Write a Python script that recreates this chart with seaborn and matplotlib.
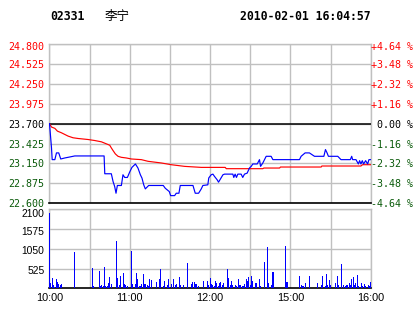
import matplotlib
matplotlib.use("Agg")
import matplotlib.pyplot as plt
import matplotlib.transforms as mtransforms
import seaborn as sns
import pandas as pd

# ---------------- data ----------------
code = "02331"
name = "李宁"
stamp = "2010-02-01 16:04:57"
prev_close = 23.70

price_ticks = [24.800, 24.525, 24.250, 23.975, 23.700, 23.425, 23.150, 22.875, 22.600]
price_tick_labels = ["24.800", "24.525", "24.250", "23.975", "23.700", "23.425", "23.150", "22.875", "22.600"]
pct_labels = ["+4.64 %", "+3.48 %", "+2.32 %", "+1.16 %", " 0.00 %", "-1.16 %", "-2.32 %", "-3.48 %", "-4.64 %"]
vol_ticks = [2100, 1575, 1050, 525]
vol_tick_labels = ["2100", "1575", "1050", "525"]
time_ticks = [0, 60, 120, 180, 240]
time_labels = ["10:00", "11:00", "12:00", "15:00", "16:00"]

price_min = [0, 1.5, 2.0, 4.0, 5.2, 6.9, 8.4, 11.4, 13.9, 18.9, 40.8, 41.3, 46.2, 47.5, 48.7, 49.7,
             50.7, 53.7, 54.9, 56.2, 58.2, 59.9, 61.6, 64.2, 66.1, 67.9, 69.1, 70.4, 71.6, 74.1, 85.0,
             86.5, 89.5, 90.5, 93.5, 94.7, 96.7, 97.7, 107.2, 108.9, 111.4, 113.4, 114.6, 118.3, 119.0,
             120.8, 122.1, 123.3, 125.3, 126.3, 127.8, 129.6, 130.8, 137.0, 137.7, 138.7, 139.7, 140.7,
             143.2, 144.4, 145.7, 147.7, 149.4, 150.7, 151.9, 155.2, 156.9, 157.7, 159.4, 161.9, 165.6,
             166.9, 186.8, 188.0, 191.0, 194.2, 198.0, 205.0, 206.2, 207.4, 208.4, 215.4, 217.8, 224.8,
             225.8, 226.5, 229.0, 230.8, 231.7, 232.7, 233.7, 234.7, 236.2, 237.7, 238.7, 240.0]
price_val = [23.700, 23.365, 23.203, 23.203, 23.296, 23.296, 23.212, 23.226, 23.235, 23.254, 23.254,
             23.008, 23.008, 22.900, 22.832, 22.739, 22.846, 22.846, 22.994, 22.957, 22.957, 23.031,
             23.096, 23.143, 23.087, 22.994, 22.948, 22.855, 22.799, 22.846, 22.846, 22.808, 22.762,
             22.706, 22.706, 22.739, 22.739, 22.846, 22.846, 22.739, 22.739, 22.799, 22.846, 22.855,
             22.950, 22.994, 23.003, 22.971, 22.924, 22.892, 22.938, 22.994, 23.003, 23.003, 22.957,
             23.003, 22.957, 23.003, 23.003, 22.957, 23.003, 23.017, 23.087, 23.110, 23.143, 23.143,
             23.203, 23.110, 23.157, 23.249, 23.249, 23.203, 23.203, 23.249, 23.296, 23.296, 23.249,
             23.249, 23.342, 23.296, 23.249, 23.249, 23.203, 23.203, 23.249, 23.203, 23.203, 23.143,
             23.189, 23.143, 23.189, 23.143, 23.189, 23.143, 23.203, 23.203]

avg_min = [0, 1.5, 4.0, 5.9, 8.9, 11.4, 13.9, 17.6, 21.4, 28.8, 33.8, 38.8, 42.5, 45.0, 46.2, 47.5,
           49.2, 51.2, 53.7, 57.4, 61.2, 68.6, 73.6, 83.5, 91.0, 101.0, 113.4, 131.3, 132.1, 159.4,
           160.2, 171.9, 172.6, 203.0, 203.5, 232.7, 233.9, 240.0]
avg_val = [23.700, 23.653, 23.635, 23.597, 23.574, 23.551, 23.528, 23.505, 23.495, 23.481, 23.467,
           23.449, 23.421, 23.402, 23.365, 23.328, 23.282, 23.249, 23.235, 23.226, 23.212, 23.203,
           23.180, 23.157, 23.133, 23.110, 23.096, 23.096, 23.078, 23.078, 23.087, 23.087, 23.101,
           23.101, 23.115, 23.115, 23.133, 23.133]

vol_min = [0, 1, 2, 3, 4, 5, 6, 7, 8, 9, 19, 32, 33, 37, 38, 39, 40, 41, 42, 43, 44, 45, 46, 50, 51,
           52, 53, 55, 56, 57, 58, 61, 62, 64, 65, 66, 67, 68, 69, 70, 71, 72, 73, 74, 75, 76,
           80, 82, 83, 85, 86, 88, 89, 90, 91, 93, 94, 95, 97, 98, 100, 103, 106, 107, 108, 109,
           110, 111, 115, 118, 119, 120, 121, 122, 123, 124, 125, 126, 127, 128, 129, 130, 133,
           134, 135, 136, 137, 139, 140, 141, 142, 143, 144, 145, 146, 147, 148, 149, 150, 151,
           152, 154, 155,
           157, 158, 161, 163, 164, 166, 167, 176, 177, 178, 187, 188, 189, 190, 191, 194, 200,
           203, 204, 206, 207, 208, 209, 210, 214, 215, 216, 218, 220, 221, 222, 223, 224, 225,
           226, 227, 228, 229, 230, 231, 233, 234, 235, 236, 238, 239, 240]
vol_val = [1993, 133, 283, 89, 44, 248, 177, 115, 89, 115, 966, 540, 62, 461, 62, 89, 71, 576, 71, 71,
           133, 310, 115, 1258, 283, 89, 337, 408, 115, 89, 62, 1001, 115, 115, 408, 248, 71, 71,
           115, 381, 115, 115, 89, 71, 248, 221,
           159, 248, 514, 62, 195, 89, 248, 44, 115, 248, 89, 115, 301, 89, 89, 673, 115, 159, 159,
           115, 115, 62, 195, 195, 89, 275, 115, 89, 62, 195, 133, 62, 133, 159, 89, 133, 514, 275,
           89, 195, 89, 89, 62, 248, 89, 89, 62, 62, 115, 248, 195, 301, 89, 328, 195, 133, 133,
           248, 62, 700, 1099, 142, 89, 434, 1125, 168, 168, 328, 89, 62, 62, 142, 328, 142, 89,
           328, 62, 381, 89, 221, 89, 142, 328, 89, 647, 89, 62, 89, 89, 142, 89, 248, 301, 89,
           142, 354, 62, 142, 62, 115, 62, 89, 62, 168]

# ---------------- style ----------------
RED = "#ff0000"
GREEN = "#0a5a0a"
BLUE = "#0000ff"
GRID = "#c0c0c0"
MONO = "DejaVu Sans Mono"
SANS = "Liberation Sans"

W, H = 414, 314
fig = plt.figure(figsize=(W / 100, H / 100), dpi=100)
fig.patch.set_facecolor("white")

def fx(px):
    return px / W

def fy(py):
    return 1 - py / H

L, R = 49.5, 370.7
ax = fig.add_axes([fx(L), fy(203.3), fx(R - L), (203.3 - 44.0) / H])
axv = fig.add_axes([fx(L), fy(288.3), fx(R - L), (288.3 - 209.3) / H])

for a in (ax, axv):
    a.set_facecolor("white")
    for s in ("top", "left", "right"):
        a.spines[s].set_color(GRID)
        a.spines[s].set_linewidth(1.0)
    a.spines["bottom"].set_color("black")
    a.spines["bottom"].set_linewidth(1.2)

# price panel
ax.axhline(prev_close, color="black", lw=1.1, zorder=3)
df_p = pd.DataFrame({"t": price_min, "p": price_val})
df_a = pd.DataFrame({"t": avg_min, "p": avg_val})
sns.lineplot(data=df_a, x="t", y="p", color=RED, lw=0.85, ax=ax, estimator=None, sort=False, zorder=4)
sns.lineplot(data=df_p, x="t", y="p", color=BLUE, lw=0.85, ax=ax, estimator=None, sort=False, zorder=5)
ax.set_xlim(0, 240)
ax.set_ylim(22.6, 24.8)
ax.set_xticks(range(0, 241, 30))
ax.set_yticks(price_ticks)
ax.set_yticklabels([])
ax.set_xticklabels([])
ax.set_xlabel("")
ax.set_ylabel("")
ax.tick_params(length=0)
ax.grid(True, color=GRID, lw=1.0)
ax.set_axisbelow(True)

trans_l = mtransforms.blended_transform_factory(ax.transAxes, ax.transData)
for i, (v, lab, pl) in enumerate(zip(price_ticks, price_tick_labels, pct_labels)):
    c = RED if v > prev_close + 1e-9 else ("black" if abs(v - prev_close) < 1e-9 else GREEN)
    dy = -2.5 if i == 0 else -1.0
    off = mtransforms.ScaledTranslation(0, dy / 100, fig.dpi_scale_trans)
    ax.text(-0.016, v, lab, transform=trans_l + off, ha="right", va="center",
            fontsize=7.2, family=MONO, color=c)
    ax.text(1.002, v, pl, transform=trans_l + off, ha="left", va="center",
            fontsize=7.2, family=MONO, color=c)

# volume panel
df_v = pd.DataFrame({"t": vol_min, "v": vol_val})
sns.barplot(data=df_v, x="t", y="v", native_scale=True, color=BLUE, width=0.75,
            linewidth=0, saturation=1, ax=axv, errorbar=None, zorder=3, antialiased=False)
axv.set_xlim(0, 240)
axv.set_ylim(0, 2100)
axv.set_xticks(range(0, 241, 30))
axv.set_yticks(vol_ticks)
axv.set_yticklabels([])
axv.set_xticklabels([])
axv.set_xlabel("")
axv.set_ylabel("")
axv.tick_params(length=0)
axv.grid(True, color=GRID, lw=1.0)
axv.set_axisbelow(True)

trans_v = mtransforms.blended_transform_factory(axv.transAxes, axv.transData)
for i, (v, lab) in enumerate(zip(vol_ticks, vol_tick_labels)):
    dy = -4.5 if i == 0 else -2.5
    off = mtransforms.ScaledTranslation(0, dy / 100, fig.dpi_scale_trans)
    axv.text(-0.016, v, lab, transform=trans_v + off, ha="right", va="center",
             fontsize=7.4, family=SANS, color="black")

trans_x = mtransforms.blended_transform_factory(axv.transData, fig.transFigure)
for t, lab in zip(time_ticks, time_labels):
    axv.text(t, fy(297.7), lab, transform=trans_x, ha="center", va="center",
             fontsize=7.8, family=SANS, color="black")

# header
fig.text(fx(50), fy(16.7), code, ha="left", va="center", fontsize=8.3, family=MONO,
         weight="bold", color="black")
fig.text(fx(105), fy(16.7), name, ha="left", va="center", fontsize=9,
         family=["Noto Sans CJK SC", "DejaVu Sans"], color="black")
fig.text(fx(370.5), fy(16.7), stamp, ha="right", va="center", fontsize=8.3, family=MONO,
         weight="bold", color="black")

fig.savefig("out.png", dpi=100, facecolor="white")
